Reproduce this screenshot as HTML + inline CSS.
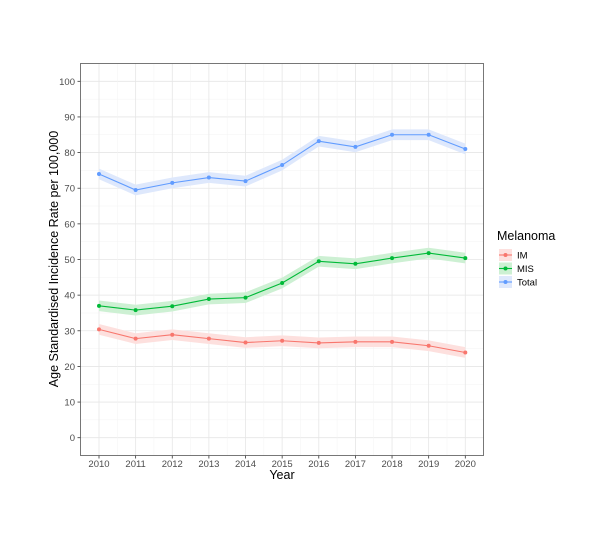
<!DOCTYPE html>
<html><head><meta charset="utf-8"><style>
body{margin:0;background:#fff;}
svg{display:block;font-family:"Liberation Sans",sans-serif;}
</style></head><body>
<svg id="chart" width="611" height="539">
<rect width="611" height="539" fill="#fff"/>
<g id="grid"></g><g id="bands"></g><g id="lines"></g><g id="axes"></g>
<rect x="80.5" y="63.5" width="403" height="392" fill="none" stroke="#555" stroke-width="0.8"/>
<text x="282" y="479" font-size="12.5" text-anchor="middle" fill="#000">Year</text>
<text transform="translate(58,259) rotate(-90)" font-size="12.5" text-anchor="middle" fill="#000">Age Standardised Incidence Rate per 100,000</text>
<g id="legend">
<text x="497" y="240" font-size="12.5" fill="#000">Melanoma</text>
</g>
</svg>
<script>
const years=[2010,2011,2012,2013,2014,2015,2016,2017,2018,2019,2020];
const yTicks=[0,10,20,30,40,50,60,70,80,90,100];
const seriesNames=["IM","MIS","Total"];
const imValues=[30.4,27.8,28.9,27.8,26.7,27.2,26.6,26.9,26.9,25.8,23.9];
const misValues=[37.0,35.8,36.9,38.9,39.3,43.4,49.5,48.8,50.4,51.8,50.4];
const totalValues=[74.0,69.5,71.5,73.0,72.0,76.5,83.2,81.6,85.0,85.0,81.0];
const ciHalf=1.5;
const colors=["#F8766D","#00BA38","#619CFF"];
const fills=["#fde0de","#cdf0d3","#dee8fc"];
const NS="http://www.w3.org/2000/svg";
const xs=y=>99+(y-2010)*(465.3-99)/10;
const ys=v=>437.7-v*(437.7-81.3)/100;
function mk(tag,attrs,parent){const e=document.createElementNS(NS,tag);for(const k in attrs)e.setAttribute(k,attrs[k]);parent.appendChild(e);return e;}
const grid=document.getElementById('grid'),axes=document.getElementById('axes');
for(let i=0;i<yTicks.length;i++){
 const v=yTicks[i];
 const l=mk('line',{x1:80.5,x2:483.5,y1:ys(v),y2:ys(v),stroke:'#e6e6e6','stroke-width':0.8},grid);
 
 
 if(i<yTicks.length-1){const m=mk('line',{x1:80.5,x2:483.5,y1:ys(v+5),y2:ys(v+5),stroke:'#f3f3f3','stroke-width':0.5},grid);
 
 }
 const t=mk('text',{x:75,y:ys(v)+3.5,'font-size':9.5,'text-anchor':'end',fill:'#4d4d4d'},axes);t.textContent=v;
 
 
 mk('line',{x1:77.5,x2:80.5,y1:ys(v),y2:ys(v),stroke:'#333','stroke-width':0.8},axes);
}
for(let i=0;i<years.length;i++){
 const yr=years[i];
 const l=mk('line',{x1:xs(yr),x2:xs(yr),y1:63.5,y2:455.5,stroke:'#e6e6e6','stroke-width':0.8},grid);
 
 
 if(i<years.length-1){const m=mk('line',{x1:xs(yr+0.5),x2:xs(yr+0.5),y1:63.5,y2:455.5,stroke:'#f3f3f3','stroke-width':0.5},grid);
 
 }
 const t=mk('text',{x:xs(yr),y:467,'font-size':9.5,'text-anchor':'middle',fill:'#4d4d4d'},axes);t.textContent=yr;
 
 
 mk('line',{x1:xs(yr),x2:xs(yr),y1:455.5,y2:458.5,stroke:'#333','stroke-width':0.8},axes);
}
const all=[imValues,misValues,totalValues];
const bands=document.getElementById('bands'),lines=document.getElementById('lines'),legend=document.getElementById('legend');
all.forEach((vals,s)=>{
 const up=vals.map((v,i)=>xs(years[i])+','+ys(v+ciHalf));
 const lo=vals.map((v,i)=>xs(years[i])+','+ys(v-ciHalf)).reverse();
 const b=mk('polygon',{points:up.concat(lo).join(' '),fill:fills[s]},bands);
 
 
 const p=mk('polyline',{points:vals.map((v,i)=>xs(years[i])+','+ys(v)).join(' '),fill:'none',stroke:colors[s],'stroke-width':1.1},lines);
 
 
 vals.forEach((v,i)=>{const c=mk('circle',{cx:xs(years[i]),cy:ys(v),r:2,fill:colors[s]},lines);
 
 });
 const ly=255+s*13.5;
 const g=mk('g',{},legend);
 
 
 mk('rect',{x:499,y:ly-6,width:13,height:12,fill:fills[s]},g);
 mk('line',{x1:499,x2:512,y1:ly,y2:ly,stroke:colors[s],'stroke-width':1.1},g);
 mk('circle',{cx:505.5,cy:ly,r:2,fill:colors[s]},g);
 const t=mk('text',{x:517,y:ly+3.5,'font-size':9.5,fill:'#000'},g);t.textContent=seriesNames[s];
});
</script>
</body></html>
